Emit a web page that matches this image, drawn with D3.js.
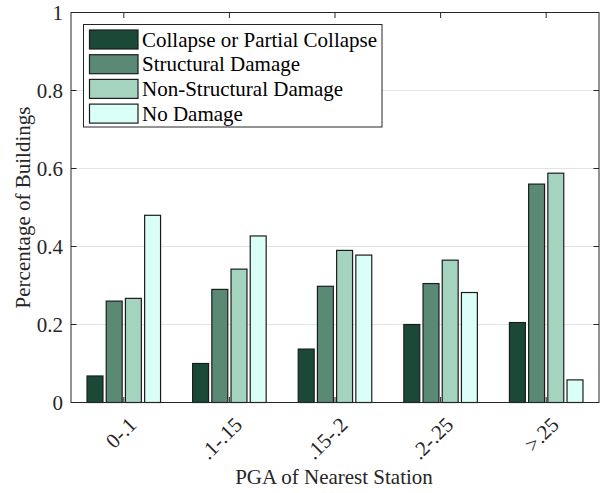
<!DOCTYPE html>
<html>
<head>
<meta charset="utf-8">
<script src="https://cdn.jsdelivr.net/npm/d3@7/dist/d3.min.js"></script>
<style>
  html, body { margin: 0; padding: 0; background: #fff; }
  svg { display: block; }
  svg text { font-family: "Liberation Serif", "Times New Roman", Times, "DejaVu Serif", serif; }
</style>
</head>
<body>
<svg id="chart" width="600" height="493"></svg>
<script>
// PGA bins of the nearest station
const categories = ["0-.1", ".1-.15", ".15-.2", ".2-.25", ">.25"];
// damage states (legend order)
const seriesNames = ["Collapse or Partial Collapse", "Structural Damage", "Non-Structural Damage", "No Damage"];
// share of buildings per damage state, one value per PGA bin
const collapse      = [0.068, 0.100, 0.137, 0.200, 0.205];
const structural    = [0.260, 0.290, 0.298, 0.305, 0.560];
const nonStructural = [0.267, 0.342, 0.390, 0.365, 0.588];
const noDamage      = [0.480, 0.427, 0.378, 0.282, 0.058];
const yTicks = [0, 0.2, 0.4, 0.6, 0.8, 1];
const yTickLabels = ["0", "0.2", "0.4", "0.6", "0.8", "1"];
const colors = ["#1a4a37", "#5a8a76", "#a4d4c0", "#daFFF6"];

const seriesValues = [collapse, structural, nonStructural, noDamage];

const FONT = "'Liberation Serif', 'Times New Roman', Times, 'DejaVu Serif', serif";
const svg = d3.select("#chart").attr("font-family", FONT);
const plot = { left: 71, right: 599, top: 12.5, bottom: 402.5 };
const fontSize = 21;
const axisColor = "#262626";
const tickLen = 5.5;

const x0 = d3.scaleBand().domain(categories).range([plot.left, plot.right]).padding(0);
const groupWidth = 76.8;
const x1 = d3.scaleBand().domain(seriesNames)
  .range([(x0.bandwidth() - groupWidth) / 2, (x0.bandwidth() + groupWidth) / 2])
  .paddingInner(0.17).paddingOuter(0.085);
const y = d3.scaleLinear().domain([0, 1]).range([plot.bottom, plot.top]);

// grid lines behind the bars
svg.append("g").selectAll("line")
  .data(yTicks.filter(t => t > 0 && t < 1))
  .join("line")
  .attr("x1", plot.left).attr("x2", plot.right)
  .attr("y1", d => y(d)).attr("y2", d => y(d))
  .attr("stroke", "#e3e3e3").attr("stroke-width", 1);

// bars
const groups = svg.append("g").selectAll("g")
  .data(categories)
  .join("g")
  .attr("transform", d => `translate(${x0(d)},0)`);

groups.selectAll("rect")
  .data((c, ci) => seriesNames.map((s, si) => ({ s, si, v: seriesValues[si][ci] })))
  .join("rect")
  .attr("x", d => x1(d.s))
  .attr("y", d => y(d.v))
  .attr("width", x1.bandwidth())
  .attr("height", d => y(0) - y(d.v))
  .attr("fill", d => colors[d.si])
  .attr("stroke", "#1c1c1c")
  .attr("stroke-width", 1.2);

// axis box
const axes = svg.append("g").attr("fill", "none").attr("stroke", axisColor).attr("stroke-width", 1);
axes.append("rect")
  .attr("x", plot.left).attr("y", plot.top)
  .attr("width", plot.right - plot.left).attr("height", plot.bottom - plot.top);

// inward ticks on all four sides
const centers = categories.map(c => x0(c) + x0.bandwidth() / 2);
centers.forEach(cx => {
  axes.append("line").attr("x1", cx).attr("x2", cx).attr("y1", plot.bottom).attr("y2", plot.bottom - tickLen);
  axes.append("line").attr("x1", cx).attr("x2", cx).attr("y1", plot.top).attr("y2", plot.top + tickLen);
});
yTicks.forEach(t => {
  axes.append("line").attr("x1", plot.left).attr("x2", plot.left + tickLen).attr("y1", y(t)).attr("y2", y(t));
  axes.append("line").attr("x1", plot.right).attr("x2", plot.right - tickLen).attr("y1", y(t)).attr("y2", y(t));
});

// y tick labels
svg.append("g").selectAll("text")
  .data(yTicks)
  .join("text")
  .attr("font-family", FONT)
  .attr("x", plot.left - 8)
  .attr("y", d => y(d) + 7)
  .attr("text-anchor", "end")
  .attr("font-size", fontSize)
  .attr("fill", axisColor)
  .text((d, i) => yTickLabels[i]);

// rotated category labels
svg.append("g").selectAll("text")
  .data(categories)
  .join("text")
  .attr("font-family", FONT)
  .attr("transform", (d, i) => `translate(${centers[i] + 14},${426}) rotate(-45)`)
  .attr("text-anchor", "end")
  .attr("font-size", fontSize)
  .attr("fill", axisColor)
  .text(d => d);

// axis titles
svg.append("text")
  .attr("font-family", FONT)
  .attr("x", (plot.left + plot.right) / 2 - 1).attr("y", 484)
  .attr("text-anchor", "middle")
  .attr("font-size", fontSize)
  .attr("fill", axisColor)
  .text("PGA of Nearest Station");

svg.append("text")
  .attr("font-family", FONT)
  .attr("transform", `translate(30,${(plot.top + plot.bottom) / 2}) rotate(-90)`)
  .attr("text-anchor", "middle")
  .attr("font-size", fontSize)
  .attr("fill", axisColor)
  .text("Percentage of Buildings");

// legend
const legend = svg.append("g");
legend.append("rect")
  .attr("x", 83.5).attr("y", 24.5).attr("width", 298.5).attr("height", 102.5)
  .attr("fill", "#fff").attr("stroke", axisColor).attr("stroke-width", 1);
const rowY = [39.5, 64.2, 88.9, 113.6];
seriesNames.forEach((name, i) => {
  legend.append("rect")
    .attr("x", 89.5).attr("y", rowY[i] - 9.5).attr("width", 48.5).attr("height", 19)
    .attr("fill", colors[i]).attr("stroke", "#1c1c1c").attr("stroke-width", 1.2);
  legend.append("text")
    .attr("font-family", FONT)
    .attr("x", 142).attr("y", rowY[i] + 7)
    .attr("font-size", fontSize)
    .attr("fill", "#000")
    .text(name);
});
</script>
</body>
</html>
